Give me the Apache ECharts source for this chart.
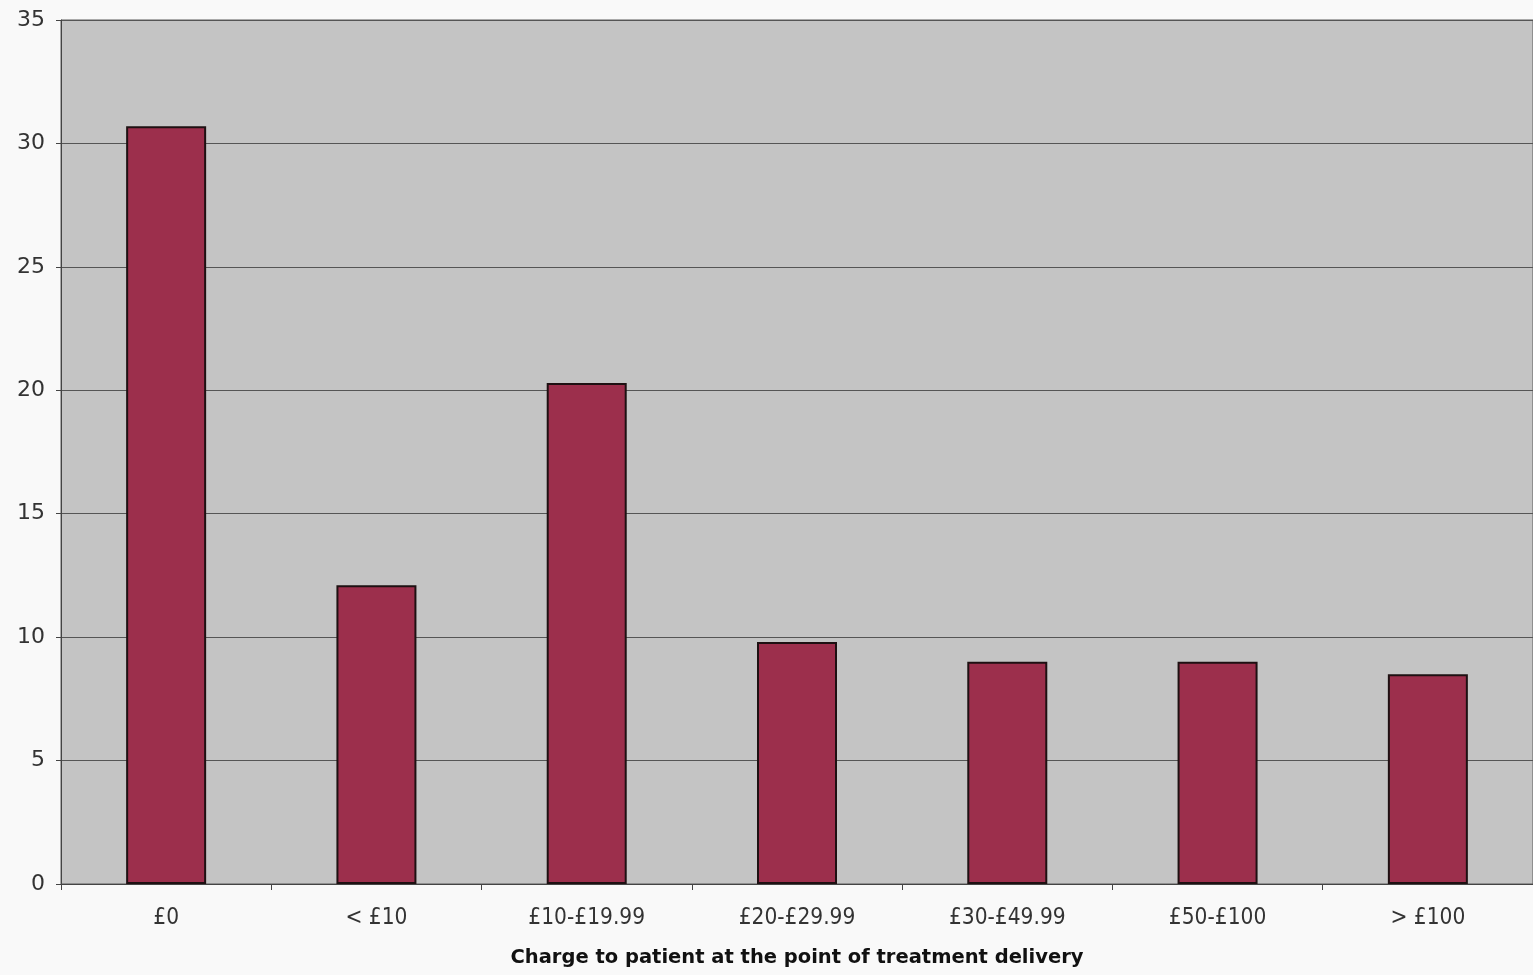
<!DOCTYPE html>
<html>
<head>
<meta charset="utf-8">
<script src="https://cdn.jsdelivr.net/npm/echarts@6/dist/echarts.min.js"></script>
<style>
  html, body { margin: 0; padding: 0; background: #f9f9f9; }
  #chart { width: 1533px; height: 975px; }
</style>
</head>
<body>
<div id="chart"></div>
<script>
// Charge bands and the share of responses in each
const categories = ['£0', '< £10', '£10-£19.99', '£20-£29.99', '£30-£49.99', '£50-£100', '> £100'];
const values = [30.7, 12.1, 20.3, 9.8, 9.0, 9.0, 8.5];
const yTicks = { min: 0, max: 35, interval: 5 };
const xTitle = 'Charge to patient at the point of treatment delivery';

const chart = echarts.init(document.getElementById('chart'), null, { renderer: 'canvas' });
chart.setOption({
  backgroundColor: '#f9f9f9',
  animation: false,
  grid: {
    left: 61, right: 0, top: 20, bottom: 91,
    outerBoundsMode: 'none',
    containLabel: false,
    show: true,
    backgroundColor: '#c4c4c4',
    borderColor: '#5a5a5a',
    borderWidth: 1
  },
  xAxis: {
    type: 'category',
    data: categories,
    name: xTitle,
    nameLocation: 'middle',
    nameGap: 64,
    nameTextStyle: { fontFamily: 'DejaVu Sans', fontWeight: 'bold', fontSize: 19.5, color: '#111' },
    axisLine: { lineStyle: { color: '#444', width: 1 } },
    axisTick: { show: true, alignWithLabel: false, length: 6, lineStyle: { color: '#444' } },
    axisLabel: { fontFamily: 'DejaVu Sans Condensed', fontSize: 22.5, color: '#333', margin: 23 }
  },
  yAxis: {
    type: 'value',
    min: yTicks.min, max: yTicks.max, interval: yTicks.interval,
    axisLine: { show: true, lineStyle: { color: '#444', width: 1 } },
    axisTick: { show: true, length: 5, lineStyle: { color: '#444' } },
    axisLabel: { fontFamily: 'DejaVu Sans', fontSize: 22, color: '#333', margin: 16 },
    splitLine: { show: true, lineStyle: { color: '#555', width: 1 } }
  },
  series: [{
    type: 'bar',
    data: values,
    barWidth: 80,
    itemStyle: { color: '#9c2f4c', borderColor: '#1e1012', borderWidth: 2 }
  }]
});
</script>
</body>
</html>
